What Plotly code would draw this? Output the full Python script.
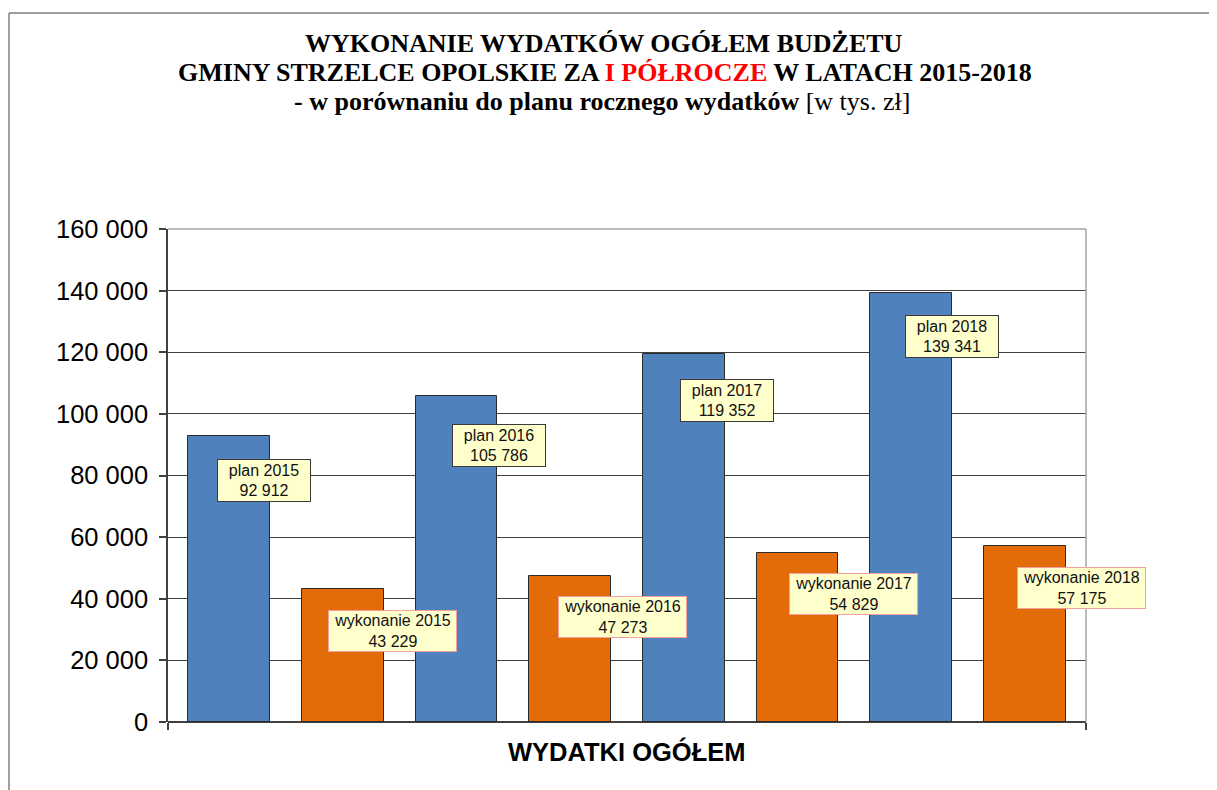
import plotly.graph_objects as go

# ---- data ----
years = ["2015", "2016", "2017", "2018"]
plan_values = [92912, 105786, 119352, 139341]
wykonanie_values = [43229, 47273, 54829, 57175]
y_ticks = [0, 20000, 40000, 60000, 80000, 100000, 120000, 140000, 160000]
category_label = "WYDATKI OGÓŁEM"

# ---- style / label placement (pixels) ----
plan_xshift = [35, 42, 43, 41]
plan_yshift = [-45, -49, -46, -44]
wyk_xshift = [50, 52, 56, 57]
wyk_yshift = [-42, -41, -41, -42]

BLUE = "#4F81BD"
ORANGE = "#E36C09"
GRID = "#404040"
SANS = "Liberation Sans"
SERIF = "Liberation Serif"

# page offset (default body margin of the html page)
OX, OY = 8, 8
W, H = 1217 - OX, 790 - OY
L = 168 - OX
T = 229 - OY
R = W - (1086 - OX)
B = H - (722 - OY)
pw, ph = W - L - R, H - T - B

def px_x(px):
    return (px - OX - L) / pw

def px_y(py):
    return (H - B - (py - OY)) / ph

plan_x = [2 * i for i in range(len(years))]
wyk_x = [2 * i + 1 for i in range(len(years))]

fig = go.Figure()
fig.add_trace(go.Bar(x=plan_x, y=plan_values, width=0.72, marker=dict(color=BLUE, line=dict(color="#2b2b2b", width=1)),
                     name="plan", showlegend=False))
fig.add_trace(go.Bar(x=wyk_x, y=wykonanie_values, width=0.72, marker=dict(color=ORANGE, line=dict(color="#2b2b2b", width=1)),
                     name="wykonanie", showlegend=False))

def fmt(v):
    return f"{v:,}".replace(",", " ")

annotations = []
for i, y in enumerate(years):
    annotations.append(dict(x=plan_x[i], y=plan_values[i], xref="x", yref="y",
                            text=f"plan {y}<br>{fmt(plan_values[i])}", showarrow=False,
                            xshift=plan_xshift[i], yshift=plan_yshift[i],
                            font=dict(family=SANS, size=16, color="#111111"),
                            bgcolor="#FFFFCC", bordercolor="#3a3a3a", borderwidth=1, borderpad=0,
                            width=92, height=41, align="center"))
    annotations.append(dict(x=wyk_x[i], y=wykonanie_values[i], xref="x", yref="y",
                            text=f"wykonanie {y}<br>{fmt(wykonanie_values[i])}", showarrow=False,
                            xshift=wyk_xshift[i], yshift=wyk_yshift[i],
                            font=dict(family=SANS, size=16, color="#111111"),
                            bgcolor="#FFFFCC", bordercolor="#F4A0A0", borderwidth=1, borderpad=0,
                            width=127, height=40, align="center"))

# titles
TS = 26
annotations.append(dict(x=px_x(604), y=px_y(43), xref="paper", yref="paper", showarrow=False,
                        text="<b>WYKONANIE WYDATKÓW OGÓŁEM BUDŻETU</b>",
                        font=dict(family=SERIF, size=TS, color="black"), xanchor="center", yanchor="middle"))
annotations.append(dict(x=px_x(605), y=px_y(72), xref="paper", yref="paper", showarrow=False,
                        text="<b>GMINY STRZELCE OPOLSKIE ZA <span style='color:#FF0000'>I PÓŁROCZE</span> W LATACH 2015-2018</b>",
                        font=dict(family=SERIF, size=TS, color="black"), xanchor="center", yanchor="middle"))
annotations.append(dict(x=px_x(602), y=px_y(101), xref="paper", yref="paper", showarrow=False,
                        text="<b>- w porównaniu do planu rocznego wydatków</b> [w tys. zł]",
                        font=dict(family=SERIF, size=TS, color="black"), xanchor="center", yanchor="middle"))
annotations.append(dict(x=px_x(626.5), y=px_y(751), xref="paper", yref="paper", showarrow=False,
                        text=f"<b>{category_label}</b>",
                        font=dict(family=SANS, size=25.5, color="black"), xanchor="center", yanchor="middle"))

shapes = [
    # plot area top & right border (light gray)
    dict(type="line", xref="paper", yref="paper", x0=0, x1=1, y0=1, y1=1, line=dict(color="#A6A6A6", width=1.5)),
    dict(type="line", xref="paper", yref="paper", x0=1, x1=1, y0=0, y1=1, line=dict(color="#A6A6A6", width=1.5)),
    # page frame (left & top)
    dict(type="line", xref="paper", yref="paper", x0=px_x(9), x1=px_x(9), y0=px_y(13), y1=px_y(800),
         line=dict(color="#7F7F7F", width=1.5)),
    dict(type="line", xref="paper", yref="paper", x0=px_x(9), x1=px_x(1230), y0=px_y(13), y1=px_y(13),
         line=dict(color="#7F7F7F", width=1.5)),
]

fig.update_layout(
    width=W, height=H,
    margin=dict(l=L, r=R, t=T, b=B, autoexpand=False),
    paper_bgcolor="white", plot_bgcolor="white",
    separators=", ",
    bargap=0,
    annotations=annotations,
    shapes=shapes,
    xaxis=dict(range=[-0.54, 7.54], showgrid=False, zeroline=False, showline=False,
               tickvals=[-0.54, 7.54], ticks="outside", ticklen=7, tickcolor=GRID, tickwidth=1.5,
               showticklabels=False, fixedrange=True),
    yaxis=dict(range=[0, 160000], tickvals=y_ticks, tickformat=",d", showgrid=True, gridcolor=GRID, gridwidth=1.2,
               zeroline=True, zerolinecolor=GRID, zerolinewidth=1.5,
               showline=True, linecolor=GRID, linewidth=1.5,
               ticks="outside", ticklen=7, tickcolor=GRID, tickwidth=1.5, ticklabelstandoff=6,
               tickfont=dict(family=SANS, size=25.5, color="black")),
)

fig.write_html("out.html")
